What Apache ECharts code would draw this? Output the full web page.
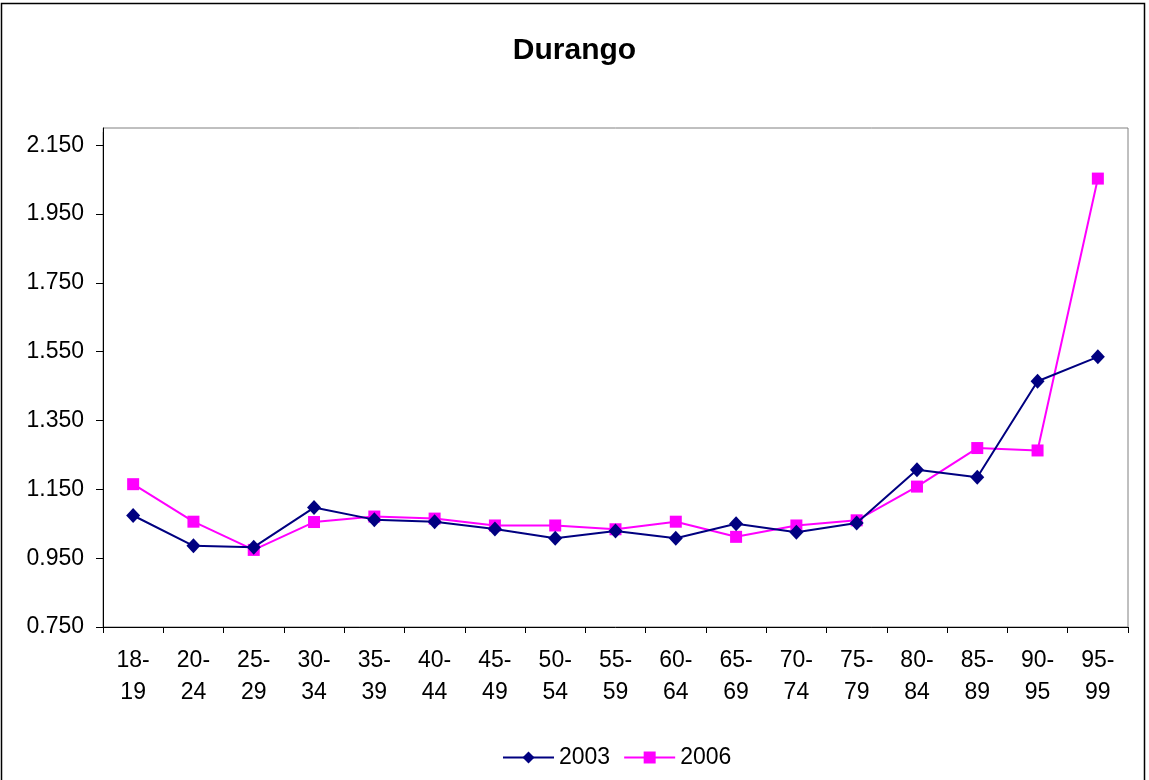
<!DOCTYPE html>
<html>
<head>
<meta charset="utf-8">
<script src="https://cdn.jsdelivr.net/npm/echarts@6/dist/echarts.min.js"></script>
<style>
html,body{margin:0;padding:0;background:#fff;}
#chart{width:1149px;height:780px;}
</style>
</head>
<body>
<div id="chart"></div>
<script>
const categories = ["18-19","20-24","25-29","30-34","35-39","40-44","45-49","50-54","55-59","60-64","65-69","70-74","75-79","80-84","85-89","90-95","95-99"];
const series2003 = [1.074,0.986,0.982,1.097,1.062,1.056,1.035,1.008,1.029,1.008,1.050,1.025,1.052,1.207,1.185,1.464,1.535];
const series2006 = [1.165,1.056,0.974,1.055,1.071,1.065,1.045,1.045,1.034,1.056,1.012,1.045,1.060,1.158,1.270,1.263,2.053];
const yTicks = {min:0.75, max:2.2, interval:0.2};

const chart = echarts.init(document.getElementById('chart'), null, {renderer:'canvas'});
const FONT = '"Liberation Sans", Arial, sans-serif';
chart.setOption({
  animation:false,
  backgroundColor:'#ffffff',
  title:{
    text:'Durango', left:'center', top:31,
    textStyle:{fontFamily:FONT, fontSize:30, fontWeight:'bold', color:'#000'}
  },
  legend:{
    bottom:6, left:497, itemWidth:51, itemHeight:15, itemGap:13,
    textStyle:{fontFamily:FONT, fontSize:23, color:'#000'},
    data:['2003','2006']
  },
  grid:{left:103, top:128, right:21, bottom:153, show:true, borderColor:'#808080', borderWidth:1, backgroundColor:'#fff'},
  xAxis:{
    type:'category', data:categories, boundaryGap:true,
    axisLine:{lineStyle:{color:'#000', width:1}},
    axisTick:{show:true, alignWithLabel:false, length:6, lineStyle:{color:'#000'}},
    axisLabel:{fontFamily:FONT, fontSize:23, color:'#000', margin:18, lineHeight:32, interval:0,
      formatter:v=>v.replace('-', '-\n')},
    splitLine:{show:false}
  },
  yAxis:{
    type:'value', min:yTicks.min, max:yTicks.max, interval:yTicks.interval,
    axisLine:{show:true, lineStyle:{color:'#000', width:1}},
    axisTick:{show:true, length:7, lineStyle:{color:'#000'}},
    axisLabel:{fontFamily:FONT, fontSize:23, color:'#000', margin:19, showMaxLabel:false,
      formatter:v=>v.toFixed(3)},
    splitLine:{show:false}
  },
  series:[
    {name:'2003', type:'line', data:series2003, symbol:'diamond', symbolSize:[14,15],
      lineStyle:{color:'#000080', width:2}, itemStyle:{color:'#000080'}, z:3},
    {name:'2006', type:'line', data:series2006, symbol:'rect', symbolSize:12,
      lineStyle:{color:'#FF00FF', width:2}, itemStyle:{color:'#FF00FF'}, z:2}
  ],
  graphic:[
    {type:'rect', shape:{x:1.5, y:3.5, width:1143, height:800}, style:{fill:'none', stroke:'#000', lineWidth:1.5}, silent:true, z:100},
    {type:'rect', shape:{x:94, y:124, width:8.5, height:8}, style:{fill:'#fff'}, silent:true, z:100}
  ]
});
</script>
</body>
</html>
